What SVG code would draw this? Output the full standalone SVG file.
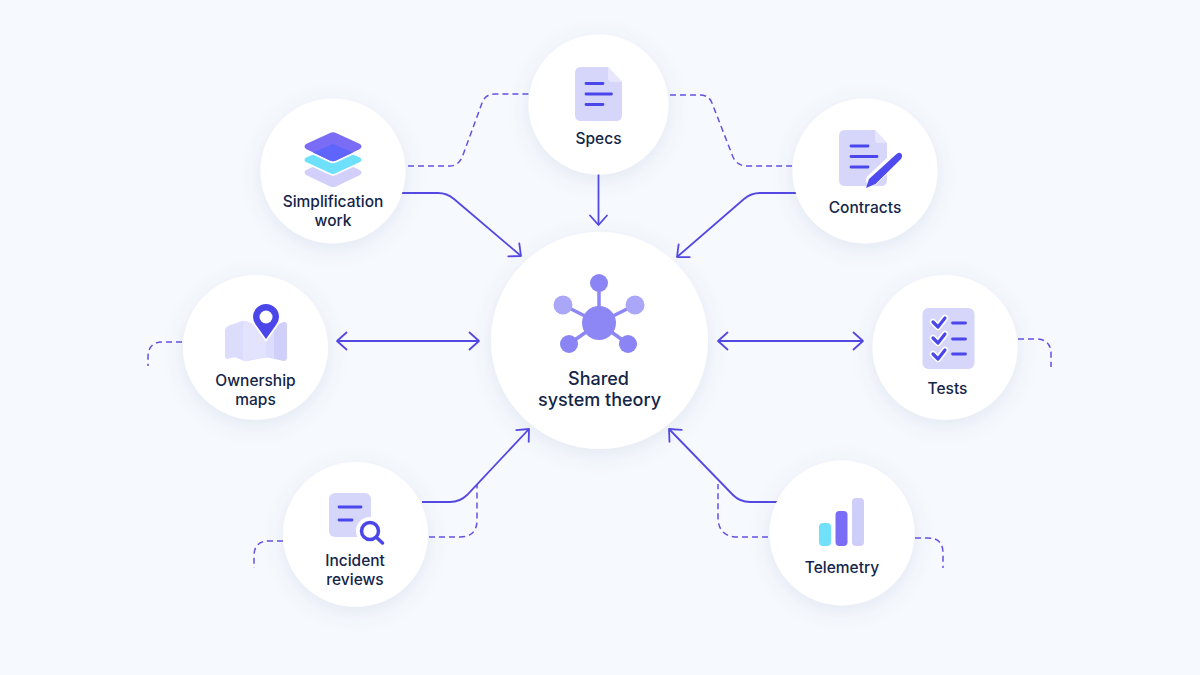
<svg xmlns="http://www.w3.org/2000/svg" width="1200" height="675" viewBox="0 0 1200 675">
<defs>
<filter id="sh" x="-30%" y="-30%" width="160%" height="170%"><feDropShadow dx="0" dy="5" stdDeviation="10" flood-color="#5a6aa8" flood-opacity="0.13"/></filter>
<marker id="head" markerUnits="userSpaceOnUse" markerWidth="24" markerHeight="24" viewBox="-12 -12 24 24" refX="0" refY="0" orient="auto-start-reverse"><path d="M-9.5 -8.5L0 0L-9.5 8.5" fill="none" stroke="#5548e2" stroke-width="1.8" stroke-linecap="round" stroke-linejoin="round"/></marker>
</defs>
<style>
.bg{fill:#f6f9fd}
.disc{fill:#fff;filter:url(#sh)}
.solid{fill:none;stroke:#5548e2;stroke-width:1.8;marker-end:url(#head)}
.both{marker-start:url(#head)}
.dash{fill:none;stroke:#6252e2;stroke-width:1.5;stroke-dasharray:6 4}
text{font-family:Inter,"Liberation Sans",sans-serif;font-weight:500;font-size:15.500px;fill:#142549;text-anchor:middle}
.big{font-size:18px}
.doc{fill:#d6d6fb}
.fold{fill:#e6e6fd}
.ln{fill:none;stroke:#4b46ea;stroke-width:2.800;stroke-linecap:round;stroke-linejoin:round}
</style>
<rect class="bg" width="1200" height="675"/>
<g id="connectors">
<path class="dash" d="M408 166H450Q459 166 463 155L482 103Q485 94 495 94H529"/>
<path class="dash" d="M670 95H700Q709 95 712 103L733 157Q737 166 747 166H792"/>
<path class="dash" d="M182 342H163Q148 342 148 357V366"/>
<path class="dash" d="M1018 339H1036Q1051 339 1051 354V367"/>
<path class="dash" d="M283 541H269Q254 541 254 556V568"/>
<path class="dash" d="M429 537H460Q477 537 477 520V484"/>
<path class="dash" d="M768 537H738Q718 537 718 517V484"/>
<path class="dash" d="M915 538H928Q943 538 943 553V568"/>
<path class="solid" d="M402 193H438Q447 193 454 199L521 256"/>
<path class="solid" d="M598.500 174V225"/>
<path class="solid" d="M796 193H760Q751 193 744 199L677 257"/>
<path class="solid both" d="M337 341H479"/>
<path class="solid both" d="M718 341H863"/>
<path class="solid" d="M422 502H450Q460 502 467 495L529 429"/>
<path class="solid" d="M777 502H750Q740 502 733 495L669 429"/>
</g>
<g id="node-simplification">
<circle class="disc" cx="333" cy="171" r="72.500"/>
<path d="M306 170L330 159Q333 158 336 159L360 170Q363 172.500 360 175L336 186.500Q333 188 330 186.500L306 175Q303 172.500 306 170Z" fill="#d2d0fa"/>
<path d="M306 157.500L331 147.500H335L360 157.500Q363 160 360 162L335 173.500Q333 174.500 331 173.500L306 162Q303 160 306 157.500Z" fill="#6fe0fb" stroke="#fff" stroke-width="3.500" paint-order="stroke"/>
<path d="M306 144L330 133Q333 131.500 336 133L360 144Q363 146.500 360 149L336 160.500Q333 162 330 160.500L306 149Q303 146.500 306 144Z" fill="#7a6cf5" stroke="#fff" stroke-width="4" paint-order="stroke"/>
<path d="M333 144L353 152.500L336 160.500Q333 162 330 160.500L313 152.500Z" fill="#5f65fa"/>
<text x="333" y="207">Simplification</text>
<text x="333" y="226">work</text>
</g>
<g id="node-specs">
<circle class="disc" cx="598.500" cy="104.500" r="70"/>
<path class="doc" d="M581 67H608L622 82V115Q622 121 616 121H581Q575 121 575 115V73Q575 67 581 67Z"/>
<path class="fold" d="M608 67L622 82H612Q608 82 608 78Z"/>
<path class="ln" d="M586 83.500H603M586 94H611.500M586 104.500H603"/>
<text x="598.500" y="144">Specs</text>
</g>
<g id="node-contracts">
<circle class="disc" cx="865" cy="171" r="72.500"/>
<path class="doc" d="M845 130H875L887 143V180Q887 186 881 186H845Q839 186 839 180V136Q839 130 845 130Z"/>
<path class="fold" d="M875 130L887 143H878Q875 143 875 140Z"/>
<path class="ln" d="M851 146H868M851 156.500H877M851 167H868"/>
<path d="M898 155.500L872 180" stroke="#fff" stroke-width="12" stroke-linecap="round"/>
<path d="M896 154.500Q899 151.500 901.500 154Q903 156.500 900.500 159.500L875.500 184L866 188L869 179Z" fill="#4f4af0"/>
<text x="865" y="213">Contracts</text>
</g>
<g id="node-center">
<circle class="disc" cx="599.500" cy="340.500" r="108.500"/>
<path d="M599 323V283M599 323L563 305M599 323L635 305M599 323L569 344M599 323L628 344" stroke="#8d86f5" stroke-width="3.500"/>
<circle cx="599" cy="323" r="17" fill="#8d86f5"/>
<circle cx="599" cy="283" r="9" fill="#8a84f4"/>
<circle cx="563" cy="305" r="9.500" fill="#aaa6f8"/>
<circle cx="635" cy="305" r="9.500" fill="#aaa6f8"/>
<circle cx="569" cy="344" r="9" fill="#8a84f4"/>
<circle cx="628" cy="344" r="9" fill="#8a84f4"/>
<text class="big" x="598.500" y="385">Shared</text>
<text class="big" x="599.500" y="406">system theory</text>
</g>
<g id="node-ownership">
<circle class="disc" cx="255.500" cy="347.500" r="72.500"/>
<path d="M225 331Q225 327 229 325.500L242 321Q244 320.500 246 321L266 329L284 322Q287 322 287 326V357Q287 360 284 361L270 358Q266 357 262 358L248 361Q245 361.500 243 360.500L236 357.500Q232 357 229 358.500Q225 360 225 356Z" fill="#dcdcfc"/>
<path d="M243 321L246 321L266 329V358Q258 358 248 361H243Z" fill="#e3e3fd"/>
<path d="M274 326L284 322Q287 322 287 326V357Q287 360 284 361L274 358.500Z" fill="#cfcffa"/>
<path d="M266 342L254.500 326Q251 321 251 316.500A15 15 0 0 1 281 316.500Q281 321 277.500 326Z" fill="#fff"/>
<path d="M266 339L256 325Q253 321 253 317A13 13 0 0 1 279 317Q279 321 276 325Z" fill="#4b46ea"/>
<circle cx="266" cy="317" r="6.500" fill="#fff"/>
<text x="255.500" y="386">Ownership</text>
<text x="255.500" y="405">maps</text>
</g>
<g id="node-tests">
<circle class="disc" cx="945" cy="347.500" r="72.500"/>
<rect class="doc" x="922.500" y="308" width="52" height="61" rx="6"/>
<path d="M933 322L938 327L945 318M933 338L938 343L945 334M933 354L938 359L945 350" fill="none" stroke="#fff" stroke-width="6.500" stroke-linecap="round" stroke-linejoin="round"/>
<path class="ln" style="stroke-width:3.200" d="M933 322L938 327L945 318M933 338L938 343L945 334M933 354L938 359L945 350"/>
<path class="ln" d="M952.500 323H965.500M952.500 339H965.500M952.500 354H965.500"/>
<text x="947.500" y="394">Tests</text>
</g>
<g id="node-incident">
<circle class="disc" cx="355.500" cy="534.500" r="72.500"/>
<rect class="doc" x="329" y="493" width="42" height="44" rx="6"/>
<path class="ln" d="M339 507H361M339 520H352"/>
<circle cx="370" cy="531" r="14" fill="#fff"/>
<circle cx="370" cy="531" r="8.500" fill="#fff" stroke="#4b46ea" stroke-width="3.500"/>
<path d="M376.500 537.500L382.500 543" stroke="#4b46ea" stroke-width="3.500" stroke-linecap="round"/>
<text x="355" y="566">Incident</text>
<text x="355" y="585">reviews</text>
</g>
<g id="node-telemetry">
<circle class="disc" cx="842" cy="533" r="72.500"/>
<rect x="819" y="523" width="12" height="23" rx="4" fill="#71e1fb"/>
<rect x="835.500" y="511" width="12" height="35" rx="4" fill="#7a6cf5"/>
<rect x="852" y="498" width="12" height="48" rx="4" fill="#cfcefa"/>
<text x="842" y="573">Telemetry</text>
</g>
</svg>
